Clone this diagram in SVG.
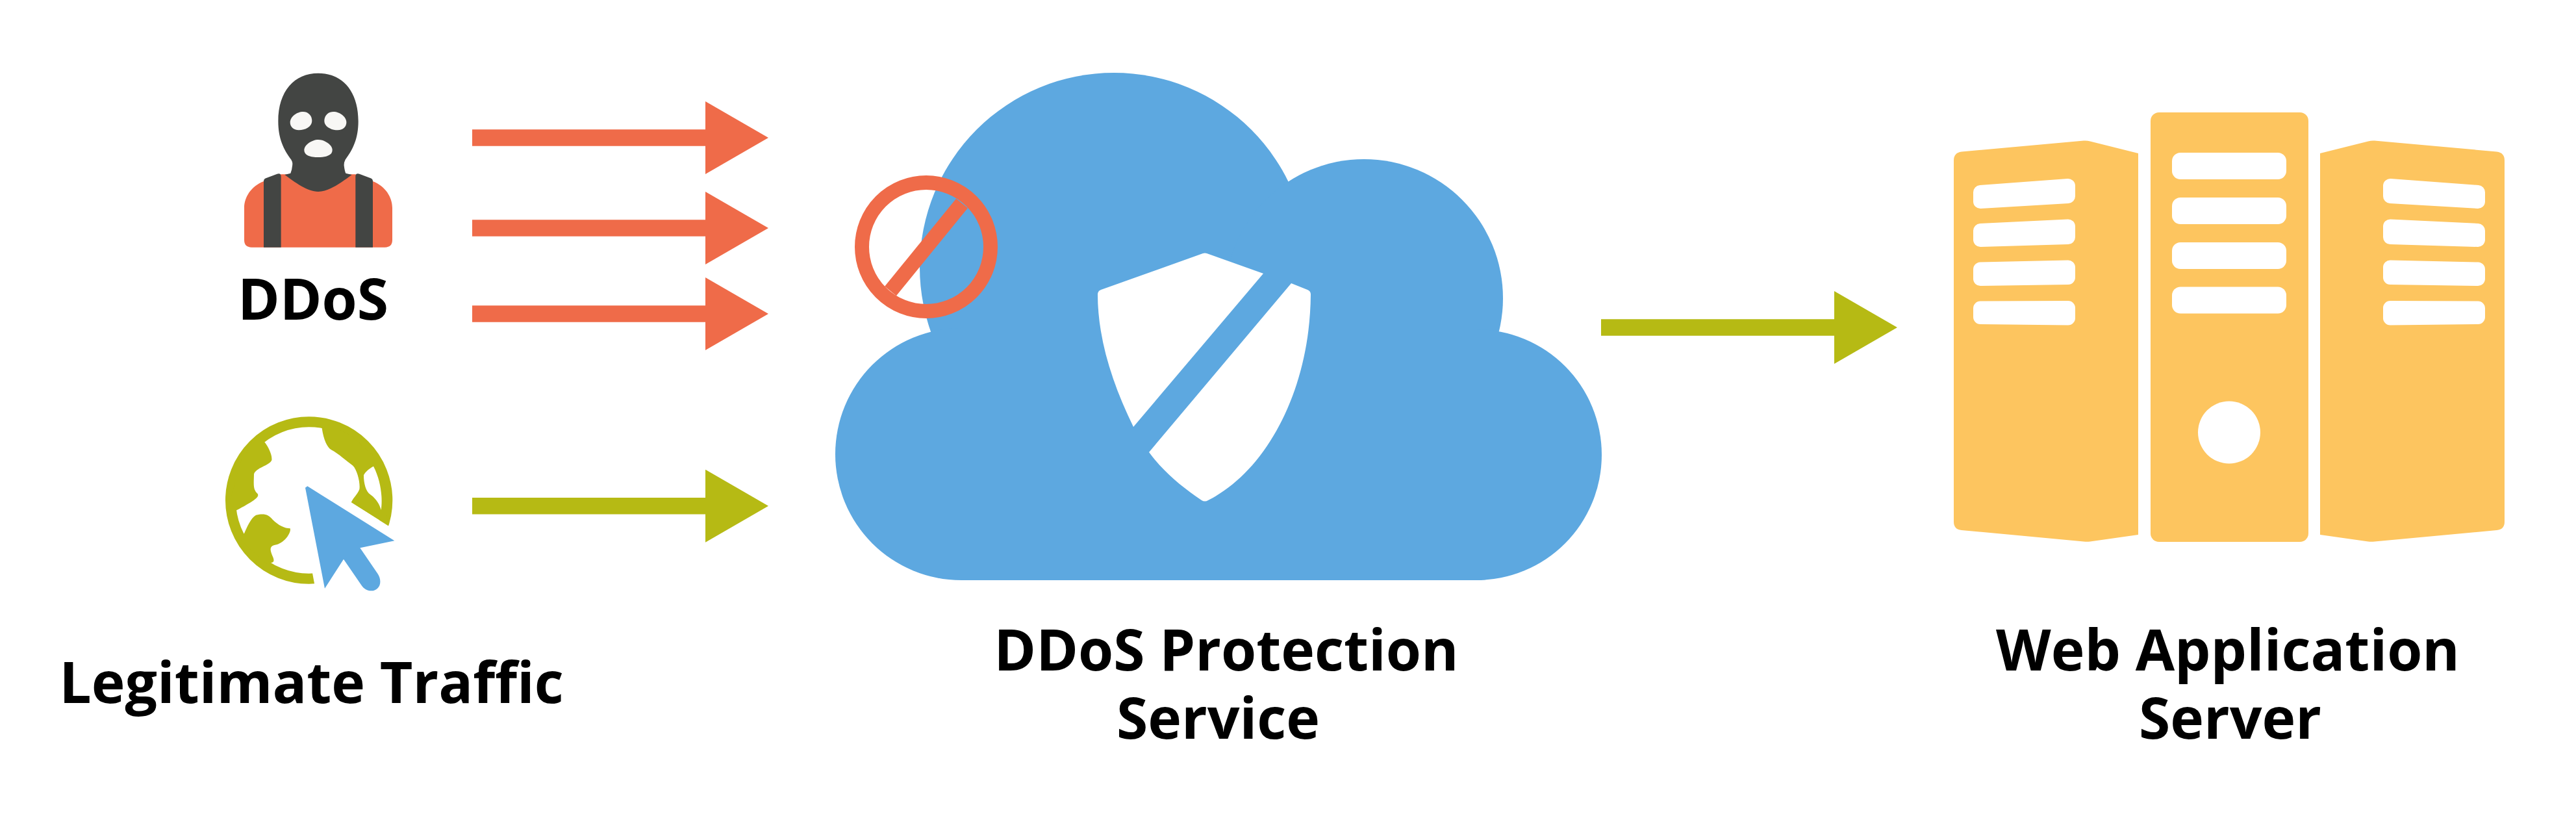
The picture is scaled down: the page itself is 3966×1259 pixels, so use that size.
<svg xmlns="http://www.w3.org/2000/svg" width="3966" height="1259" viewBox="0 0 3966 1259">
<style>
.label{font-family:"Open Sans","Noto Sans","Liberation Sans",sans-serif;font-weight:700;font-size:87.6px;fill:#000;text-anchor:middle}
.dark{fill:#434543}.red{fill:#ef6b49}.olive{fill:#b6ba14}.blue{fill:#5da8e0}.amber{fill:#fdc55f}.white{fill:#fff}.eye{fill:#f8f7f5}
.slot{fill:#fff;stroke:#fff;stroke-width:22;stroke-linejoin:round}
.shaft-red{stroke:#ef6b49;stroke-width:25.4;fill:none}.shaft-olive{stroke:#b6ba14;stroke-width:25.4;fill:none}
</style>
<defs>
<marker id="head-red" markerUnits="userSpaceOnUse" viewBox="0 0 97 112" refX="0" refY="56" markerWidth="97" markerHeight="112" orient="auto"><path class="red" d="M0 0L97 56L0 112Z"/></marker>
<marker id="head-olive" markerUnits="userSpaceOnUse" viewBox="0 0 97 112" refX="0" refY="56" markerWidth="97" markerHeight="112" orient="auto"><path class="olive" d="M0 0L97 56L0 112Z"/></marker>
<g id="rack">
<path class="amber" d="M3008 247Q3008 235 3020 233.5L3208 216.5Q3213 216 3218 217.5L3292 236L3292 823L3218 833.5Q3213 834 3208 833.5L3020 816Q3008 815 3008 803Z"/>
<polygon class="slot" points="3049,296 3184,286 3184,302 3049,310"/>
<polygon class="slot" points="3049,355 3184,348.5 3184,365 3049,369"/>
<polygon class="slot" points="3049,414.500 3184,411.500 3184,427 3049,429"/>
<polygon class="slot" points="3049,474.400 3184,474 3184,489.400 3049,488"/>
</g>
</defs>
<rect width="3966" height="1259" fill="#fff"/>

<g id="connectors">
<line class="shaft-red" x1="727" y1="212" x2="1086" y2="212" marker-end="url(#head-red)"/>
<line class="shaft-red" x1="727" y1="351" x2="1086" y2="351" marker-end="url(#head-red)"/>
<line class="shaft-red" x1="727" y1="483" x2="1086" y2="483" marker-end="url(#head-red)"/>
<line class="shaft-olive" x1="727" y1="778.700" x2="1086" y2="778.700" marker-end="url(#head-olive)"/>
<line class="shaft-olive" x1="2465" y1="504" x2="2824" y2="504" marker-end="url(#head-olive)"/>
</g>

<g id="ddos-attacker">
<g transform="translate(300 80) scale(0.33333)">
<path class="red" d="M318 597C260 620 228 670 228 720L228 868Q228 902 262 902L878 902Q912 902 912 868L912 720C912 670 880 620 822 597L742 565L398 565Z"/>
<path class="dark" d="M318 902L318 597Q318 587 328 583L380 563Q398 558 398 575L398 902Z"/>
<path class="dark" d="M822 902L822 597Q822 587 812 583L760 563Q742 558 742 575L742 902Z"/>
<path class="dark" d="M570 98C680 98 755 180 755 320C755 400 730 450 695 497Q688 510 689 525Q692 550 697 560L725 567C680 600 620 645 570 645C520 645 460 600 415 567L442 560Q450 540 451 515Q450 505 445 497C410 450 385 400 385 320C385 180 460 98 570 98Z"/>
<path class="eye" d="M440 325C440 300 470 276 500 276C525 276 541 295 541 318C541 345 510 361 480 361C455 361 440 345 440 325Z"/>
<path class="eye" d="M700 325C700 300 670 276 640 276C615 276 598 295 598 318C598 345 630 361 660 361C685 361 700 345 700 325Z"/>
<path class="eye" d="M505 452C505 430 540 405 570 405C600 405 635 430 635 452C635 478 605 486 570 486C535 486 505 478 505 452Z"/>
</g>
<text class="label" x="482" y="491.700">DDoS</text>
</g>

<g id="legitimate-traffic">
<g transform="translate(300 600) scale(0.33333)">
<circle cx="527" cy="510" r="362" fill="none" stroke="#b6ba14" stroke-width="48"/>
<path class="olive" d="M323 242C340 265 358 300 355 325C345 350 280 360 273 390C272 440 268 460 290 480C300 495 270 515 193 556L160 520L215 320L290 220Z"/>
<path class="olive" d="M587 178C595 230 610 265 630 277C665 295 700 330 730 350C750 370 765 430 760 460C750 485 730 500 722 520L893 628L885 580L880 440L820 300L720 210L620 160Z"/>
<path class="white" d="M825 353C785 375 780 395 780 395C780 430 790 470 810 483C835 500 855 530 860 555C868 500 860 420 825 353Z"/>
<path class="olive" d="M228 663C250 610 268 585 283 578C320 570 340 575 360 600C385 625 415 640 440 640C447 660 410 712 370 716C340 722 350 745 360 770C368 790 365 795 353 798L340 810L260 740L200 680Z"/>
<path class="white" d="M467 443L600 443L1000 695L1000 1000L572 1000Z"/>
<path class="blue" d="M510 452L520 445L922 697L763 730L845 850C870 890 850 928 815 928C795 928 780 918 770 903L687 782L600 917Z"/>
</g>
<text class="label" x="479.500" y="1081.700">Legitimate Traffic</text>
</g>

<g id="protection-service">
<g class="blue">
<circle cx="1715" cy="411" r="299"/>
<circle cx="2100" cy="459" r="214"/>
<circle cx="1480" cy="699" r="194"/>
<circle cx="2273" cy="700" r="193"/>
<rect x="1480" y="500" width="793" height="393"/>
</g>
<path class="white" d="M1852 390Q1855 389 1858 390L1945 421L1745 657C1712 590 1690 520 1690 453Q1690 448 1695 446Z"/>
<path class="white" d="M1988 436L2013 446Q2018 448 2018 453C2017 600 1950 725 1860 770Q1855 773 1850 770C1820 750 1790 725 1769 696Z"/>
<circle cx="1426" cy="380" r="99" fill="none" stroke="#ef6b49" stroke-width="22"/>
<line x1="1371" y1="448" x2="1481" y2="313" stroke="#ef6b49" stroke-width="23"/>
<text class="label"><tspan x="1888" y="1031.700">DDoS Protection</tspan><tspan x="1875.500" y="1136.700">Service</tspan></text>
</g>

<g id="web-server">
<use href="#rack"/>
<use href="#rack" transform="translate(6864 0) scale(-1 1)"/>
<rect class="amber" x="3311" y="173" width="243" height="661" rx="13" ry="13"/>
<rect class="white" x="3344" y="235" width="176" height="41" rx="13" ry="13"/>
<rect class="white" x="3344" y="304" width="176" height="41" rx="13" ry="13"/>
<rect class="white" x="3344" y="373" width="176" height="41" rx="13" ry="13"/>
<rect class="white" x="3344" y="441.500" width="176" height="41" rx="13" ry="13"/>
<circle class="white" cx="3432" cy="665.500" r="48"/>
<text class="label"><tspan x="3430" y="1031.700">Web Application</tspan><tspan x="3433.500" y="1136.700">Server</tspan></text>
</g>
</svg>
